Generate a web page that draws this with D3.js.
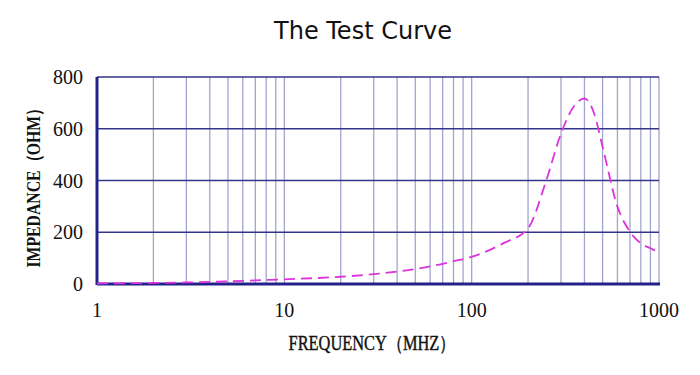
<!DOCTYPE html>
<html><head><meta charset="utf-8">
<script src="https://cdn.jsdelivr.net/npm/d3@7"></script>
<style>body{margin:0;background:#fff}</style>
</head><body>
<svg id="c" width="700" height="375"></svg>
<script>
const freq = [1, 2, 3, 5, 7, 10, 20, 30, 50, 70, 80, 100, 150, 200, 250, 300, 350, 400, 450, 500, 600, 700, 800, 900, 1000];
const impedance = [2, 4, 6, 10, 14, 18, 28, 38, 58, 78, 88, 105, 160, 215, 400, 582, 685, 717, 660, 530, 299, 202, 157, 138, 121];
const yTicks = [0, 200, 400, 600, 800];
const xTicks = [1, 10, 100, 1000];
const title = "The Test Curve";
const xTitle = "FREQUENCY（MHZ）";
const yTitle = "IMPEDANCE（OHM）";

const svg = d3.select("#c");
const L = 97, R = 659, T = 77, B = 284;
const x = d3.scaleLog().domain([1, 1000]).range([L, R]);
const y = d3.scaleLinear().domain([0, 800]).range([B, T]);

// vertical minor grid
const minor = [];
for (let d = 1; d < 1000; d *= 10) for (let k = 1; k <= 9; k++) minor.push(d * k);
minor.push(1000);
svg.append("g").selectAll("line").data(minor.filter(v => v > 1)).join("line")
  .attr("x1", d => x(d)).attr("x2", d => x(d)).attr("y1", T).attr("y2", B)
  .attr("stroke", "#a3a3cf").attr("stroke-width", 1.3);
// horizontal grid
svg.append("g").selectAll("line").data(yTicks.filter(v => v > 0)).join("line")
  .attr("x1", L).attr("x2", R).attr("y1", d => y(d)).attr("y2", d => y(d))
  .attr("stroke", "#34348a").attr("stroke-width", 1.3);
// frame
svg.append("line").attr("x1", L).attr("x2", L).attr("y1", T).attr("y2", B + 1).attr("stroke", "#22228a").attr("stroke-width", 3);
svg.append("line").attr("x1", L).attr("x2", R + 1).attr("y1", B).attr("y2", B).attr("stroke", "#22228a").attr("stroke-width", 3);

// curve
const line = d3.line().x(d => x(d[0])).y(d => y(d[1])).curve(d3.curveMonotoneX);
svg.append("path").datum(freq.map((f, i) => [f, impedance[i]]))
  .attr("d", line).attr("fill", "none").attr("stroke", "#dd33dd")
  .attr("stroke-width", 1.8).attr("stroke-dasharray", "11,6");

const serif = "'Liberation Serif','DejaVu Serif',serif";
// y tick labels
svg.append("g").selectAll("text").data(yTicks).join("text")
  .attr("x", 83).attr("y", d => y(d) + 7).attr("text-anchor", "end")
  .attr("font-family", serif).attr("font-size", 20).attr("fill", "#111").text(d => d);
// x tick labels
svg.append("g").selectAll("text").data(xTicks).join("text")
  .attr("x", d => x(d)).attr("y", 317).attr("text-anchor", "middle")
  .attr("font-family", serif).attr("font-size", 20).attr("fill", "#111").text(d => d);
// titles
svg.append("text").attr("x", 363).attr("y", 39).attr("text-anchor", "middle")
  .attr("font-family", "'DejaVu Sans',sans-serif").attr("font-size", 24).attr("fill", "#111").text(title);
svg.append("text").attr("transform", "translate(372,350) scale(0.82,1)")
  .attr("text-anchor", "middle").attr("font-family", serif).attr("font-size", 20)
  .attr("fill", "#111").attr("stroke", "#111").attr("stroke-width", 0.4).text(xTitle);
svg.append("text").attr("transform", "translate(40,184) rotate(-90) scale(0.83,1)")
  .attr("text-anchor", "middle").attr("font-family", serif).attr("font-size", 19)
  .attr("font-weight", "bold").attr("fill", "#111").text(yTitle);
</script>
</body></html>
